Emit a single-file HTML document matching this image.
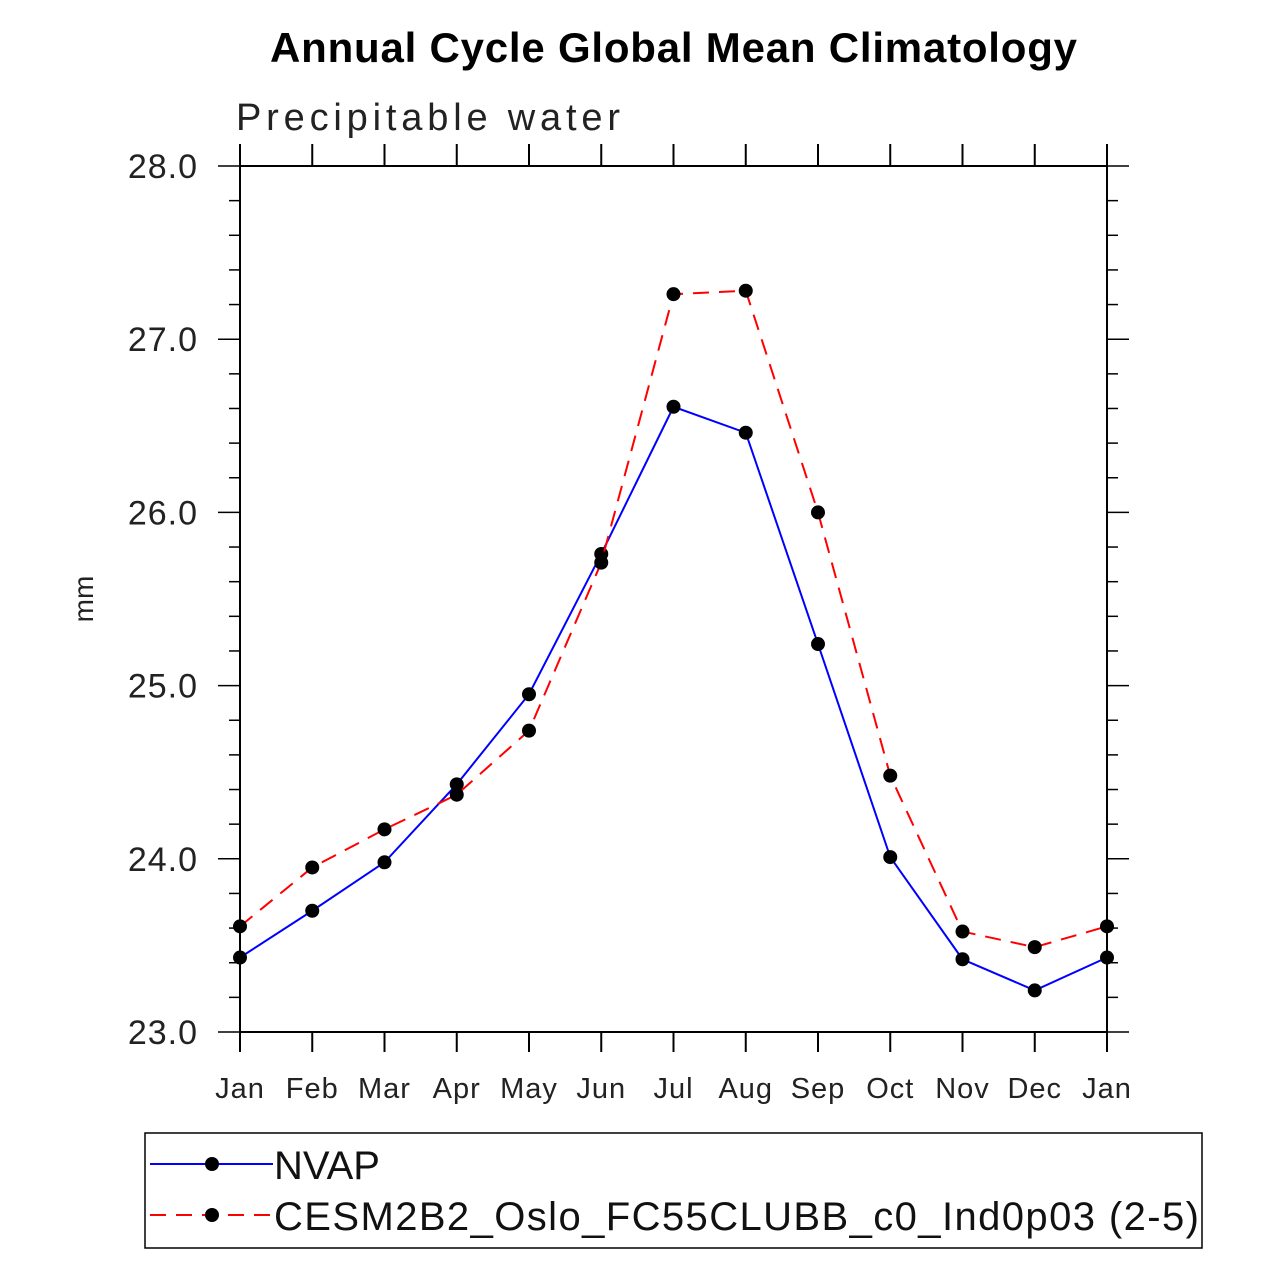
<!DOCTYPE html>
<html><head><meta charset="utf-8"><style>
body{margin:0;background:#fff;}
svg text{font-family:"Liberation Sans",sans-serif;}
</style></head><body>
<svg id="chart" width="1279" height="1279" xmlns="http://www.w3.org/2000/svg">
<rect width="1279" height="1279" fill="#fff"/>
<text x="270" y="62" font-size="42" font-weight="bold" textLength="807">Annual Cycle Global Mean Climatology</text>
<text x="236" y="130" font-size="38" fill="#222" textLength="384">Precipitable water</text>
<text transform="translate(93,599) rotate(-90)" text-anchor="middle" font-size="28" fill="#222">mm</text>
<g id="axes"></g>
<g id="series"></g>
<rect x="145" y="1133" width="1057" height="115" fill="none" stroke="#000" stroke-width="1.5"/>
<g>
<line x1="150" y1="1164" x2="273" y2="1164" stroke="#0000ff" stroke-width="2"/>
<circle cx="212" cy="1164" r="7" fill="#000"/>
<text x="274" y="1179" font-size="40" fill="#111">NVAP</text>
</g>
<g>
<line x1="150" y1="1215" x2="273" y2="1215" stroke="#ff0000" stroke-width="2" stroke-dasharray="16,10"/>
<circle cx="212" cy="1215" r="7" fill="#000"/>
<text x="274" y="1230" font-size="40" fill="#111" textLength="925">CESM2B2_Oslo_FC55CLUBB_c0_Ind0p03 (2-5)</text>
</g>
</svg>
<script>
const months=["Jan","Feb","Mar","Apr","May","Jun","Jul","Aug","Sep","Oct","Nov","Dec","Jan"];
const yTicks=["23.0","24.0","25.0","26.0","27.0","28.0"];
const nvap=[23.43,23.70,23.98,24.43,24.95,25.76,26.61,26.46,25.24,24.01,23.42,23.24,23.43];
const cesm=[23.61,23.95,24.17,24.37,24.74,25.71,27.26,27.28,26.00,24.48,23.58,23.49,23.61];
const NS="http://www.w3.org/2000/svg";
const X0=240,X1=1107,Y0=1032,Y1=166,YMIN=23,YMAX=28;
function xs(i){return X0+(X1-X0)*i/(months.length-1);}
function ys(v){return Y0-(Y0-Y1)*(v-YMIN)/(YMAX-YMIN);}
function mk(tag,attrs,parent){const e=document.createElementNS(NS,tag);for(const k in attrs)e.setAttribute(k,attrs[k]);parent.appendChild(e);return e;}
const ax=document.getElementById('axes');
const frame=mk('rect',{x:X0,y:Y1,width:X1-X0,height:Y0-Y1,fill:'none',stroke:'#000','stroke-width':2},ax);


months.forEach((m,i)=>{
  const x=xs(i);
  mk('line',{x1:x,y1:Y0,x2:x,y2:Y0+20,stroke:'#000','stroke-width':2},ax);
  mk('line',{x1:x,y1:Y1,x2:x,y2:Y1-22,stroke:'#000','stroke-width':2},ax);
  const t=mk('text',{x:x,y:1098,'text-anchor':'middle','font-size':29,fill:'#222','letter-spacing':1},ax);
  t.textContent=m;
  
  
});
for(let v=YMIN;v<=YMAX+1e-9;v+=0.2){
  const y=ys(v);const major=Math.abs(v-Math.round(v))<1e-6;
  const L=major?22:11;
  mk('line',{x1:X0-L,y1:y,x2:X0,y2:y,stroke:'#000','stroke-width':1.5},ax);
  mk('line',{x1:X1,y1:y,x2:X1+L,y2:y,stroke:'#000','stroke-width':1.5},ax);
}
yTicks.forEach(s=>{
  const t=mk('text',{x:198,y:ys(parseFloat(s))+12,'text-anchor':'end','font-size':34,fill:'#222','letter-spacing':1},ax);
  t.textContent=s;
  
  
});
const sg=document.getElementById('series');
function draw(data,color,dash,name){
  const pts=data.map((v,i)=>xs(i)+','+ys(v)).join(' ');
  const pl=mk('polyline',{points:pts,fill:'none',stroke:color,'stroke-width':2,'stroke-dasharray':dash},sg);
  
  
  data.forEach((v,i)=>{
    const c=mk('circle',{cx:xs(i),cy:ys(v),r:7,fill:'#000'},sg);
    
    
  });
}
draw(nvap,'#0000ff','none','nvap');
draw(cesm,'#ff0000','16,10','cesm');
</script>
</body></html>
